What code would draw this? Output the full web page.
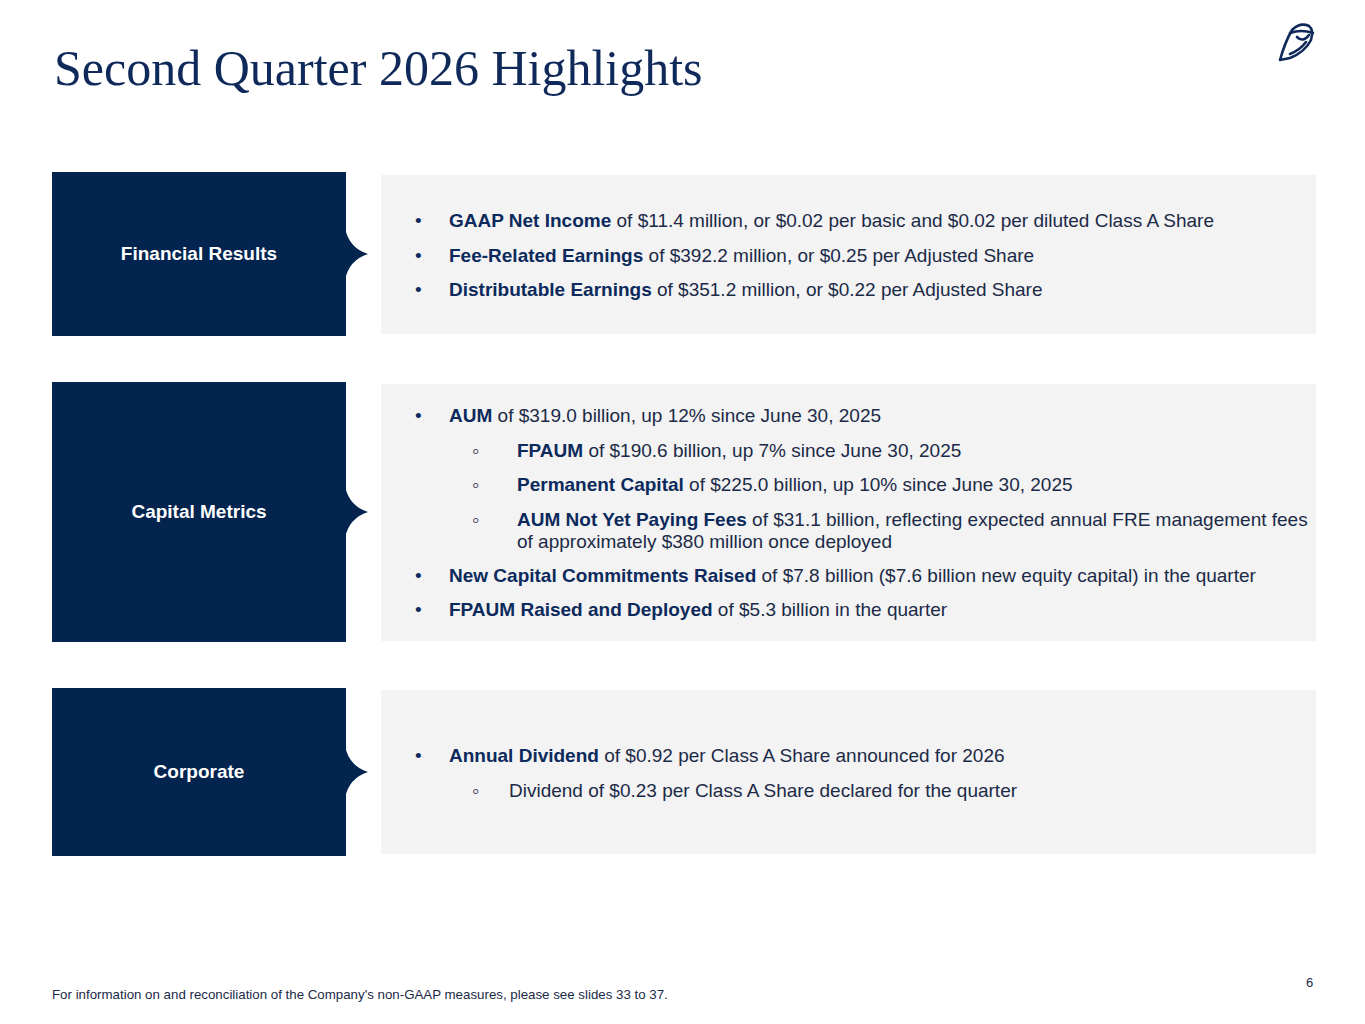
<!DOCTYPE html>
<html>
<head>
<meta charset="utf-8">
<!-- Chart.js is loaded as required, but this slide has no chart: everything below is HTML/CSS -->
<script src="https://cdn.jsdelivr.net/npm/chart.js@4.4.1/dist/chart.umd.min.js"></script>
<style>
  html, body { margin: 0; padding: 0; background: #fff; }
  body { width: 1365px; height: 1024px; position: relative; overflow: hidden;
         font-family: "Liberation Sans", Arial, sans-serif; color: #1b2a47; }
  .title { position: absolute; left: 54px; top: 38px; font-family: "Liberation Serif", Georgia, serif;
           font-size: 50px; line-height: 60px; color: #0f2a5a; }
  .tab { position: absolute; left: 52px; width: 294px; background: #02244f; color: #fff;
         font-weight: bold; font-size: 19px; display: flex; align-items: center; justify-content: center; }
  .tab svg { position: absolute; left: 293px; top: 50%; margin-top: -26px; }
  .panel { position: absolute; left: 381px; width: 935px; background: #f3f3f3; }
  .line { position: absolute; font-size: 19px; line-height: 22px; white-space: nowrap; }
  .line b { color: #0c2a5c; }
  .dot { position: absolute; font-size: 19px; line-height: 22px; color: #0c2a5c; }
  .sub { position: absolute; font-size: 21px; line-height: 22px; color: #1b2a47; }
  .foot { position: absolute; left: 52px; top: 987px; font-size: 13.3px; color: #1b2a47; }
  .pg { position: absolute; left: 1306px; top: 975px; font-size: 13px; color: #1b2a47; }
</style>
</head>
<body>
<div class="title">Second Quarter 2026 Highlights</div>

<svg style="position:absolute;left:1276px;top:20px" width="42" height="44" viewBox="0 0 42 44">
  <g fill="none" stroke="#0f2a5a" stroke-width="2.6" stroke-linecap="round" stroke-linejoin="round">
    <path d="M16 10 Q24 2 33 6 Q38 10 35 20 Q29 32 14 38 L4 40 Q9 22 16 10 Z"/>
    <path d="M14 13 Q25 9 37 13"/>
    <path d="M21 17 Q27 23 33 15"/>
    <path d="M14 34 Q24 30 30 22"/>
  </g>
</svg>

<div id="slide"></div>

<div class="foot">For information on and reconciliation of the Company's non-GAAP measures, please see slides 33 to 37.</div>
<div class="pg">6</div>

<script>
// section tabs: label, top, height
const sections = [
  { label: 'Financial Results', top: 172, height: 164, panelTop: 175, panelHeight: 159 },
  { label: 'Capital Metrics',   top: 382, height: 260, panelTop: 384, panelHeight: 257 },
  { label: 'Corporate',         top: 688, height: 168, panelTop: 690, panelHeight: 164 },
];

// bullet lines: [level, top, html]
const bullets = [
  [0, 210, '<b>GAAP Net Income</b> of $11.4 million, or $0.02 per basic and $0.02 per diluted Class A Share'],
  [0, 245, '<b>Fee-Related Earnings</b> of $392.2 million, or $0.25 per Adjusted Share'],
  [0, 279, '<b>Distributable Earnings</b> of $351.2 million, or $0.22 per Adjusted Share'],
  [0, 405, '<b>AUM</b> of $319.0 billion, up 12% since June 30, 2025'],
  [1, 440, '<b>FPAUM</b> of $190.6 billion, up 7% since June 30, 2025'],
  [1, 474, '<b>Permanent Capital</b> of $225.0 billion, up 10% since June 30, 2025'],
  [1, 509, '<b>AUM Not Yet Paying Fees</b> of $31.1 billion, reflecting expected annual FRE management fees<br>of approximately $380 million once deployed'],
  [0, 565, '<b>New Capital Commitments Raised</b> of $7.8 billion ($7.6 billion new equity capital) in the quarter'],
  [0, 599, '<b>FPAUM Raised and Deployed</b> of $5.3 billion in the quarter'],
  [0, 745, '<b>Annual Dividend</b> of $0.92 per Class A Share announced for 2026'],
  [2, 780, 'Dividend of $0.23 per Class A Share declared for the quarter'],
];

const slide = document.getElementById('slide');
sections.forEach(s => {
  const p = document.createElement('div');
  p.className = 'panel';
  p.style.top = s.panelTop + 'px';
  p.style.height = s.panelHeight + 'px';
  slide.appendChild(p);

  const t = document.createElement('div');
  t.className = 'tab';
  t.style.top = s.top + 'px';
  t.style.height = s.height + 'px';
  t.innerHTML = s.label +
    '<svg width="24" height="52" viewBox="0 0 24 52"><path d="M0 0 Q4 20 23 26 Q4 32 0 52 Z" fill="#02244f"/></svg>';
  slide.appendChild(t);
});

bullets.forEach(([lvl, top, html]) => {
  const mark = document.createElement('div');
  const txt = document.createElement('div');
  txt.className = 'line';
  txt.style.top = top + 'px';
  txt.innerHTML = html;
  if (lvl === 0) {
    mark.className = 'dot';
    mark.style.left = '415px';
    mark.style.top = top + 'px';
    mark.textContent = '•';
    txt.style.left = '449px';
  } else {
    mark.className = 'sub';
    mark.style.left = '472px';
    mark.style.top = top + 'px';
    mark.textContent = '◦';
    txt.style.left = lvl === 1 ? '517px' : '509px';
  }
  slide.appendChild(mark);
  slide.appendChild(txt);
});
</script>
</body>
</html>
